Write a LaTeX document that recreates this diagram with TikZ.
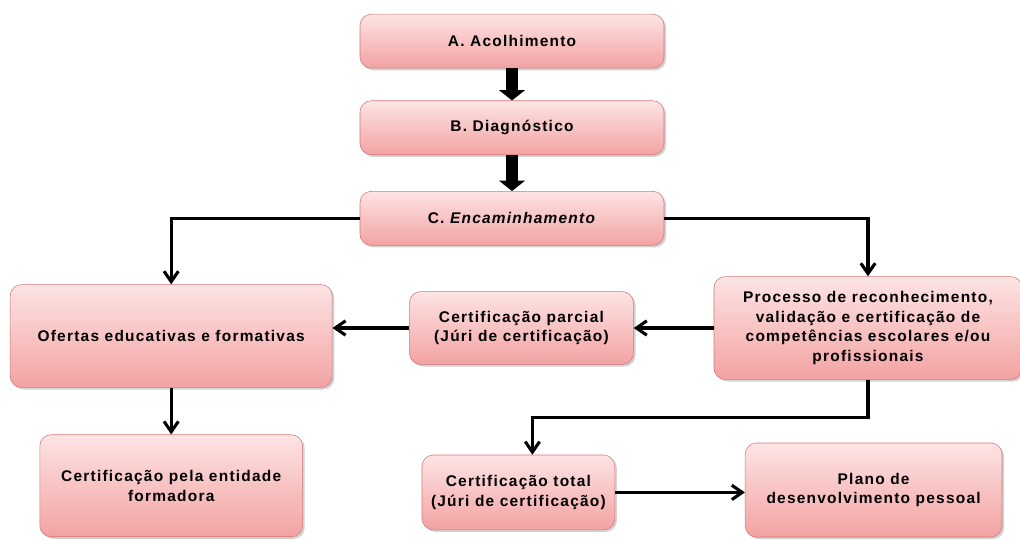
\documentclass[tikz,border=0pt]{standalone}
\usepackage{fontspec}
\setmainfont{Liberation Sans}[LetterSpace=8]
\usepackage{tikz}
\usetikzlibrary{arrows.meta, positioning, shadows}

\definecolor{boxtop}{HTML}{FDE4E4}
\definecolor{boxbot}{HTML}{F3A2A2}
\definecolor{boxline}{HTML}{D27878}

\begin{document}
\begin{tikzpicture}[node distance=1cm, auto]
\tikzstyle{block} = [rectangle, draw=boxline, top color=boxtop, bottom color=boxbot,
    rounded corners=8pt, align=center, inner sep=2pt,
    font=\fontsize{11}{13.8}\selectfont\bfseries,
    drop shadow={shadow xshift=1.5pt, shadow yshift=-1.5pt, fill=black!35}]
\tikzstyle{step3} = [block, minimum width=7.6cm, minimum height=1.35cm]
\tikzstyle{arrow} = [line width=2.2pt, -{Straight Barb[length=2.6mm,width=3.6mm]}]
\tikzstyle{fat} = [line width=3mm, -{Triangle[length=2.6mm,width=6.4mm]}]

\useasboundingbox (0,0) rectangle (25.5,-13.475);

% Nodes
\node [step3] (acolh) at (12.8,-1.03) {A. Acolhimento};
\node [step3, below=0.8cm of acolh] (diagn) {B. Diagnóstico};
\node [step3, below=0.9cm of diagn] (encam) {C. \textit{Encaminhamento}};
\node [block, minimum width=7.7cm, minimum height=2.57cm] (proc) at (21.7,-8.2)
    {Processo de reconhecimento,\\ validação e certificação de\\ competências escolares e/ou\\ profissionais};
\node [block, minimum width=5.6cm, minimum height=1.82cm, left=2cm of proc] (parcial)
    {Certificação parcial\\ (Júri de certificação)};
\node [block, minimum width=8.05cm, minimum height=2.57cm] (ofert) at (4.28,-8.4)
    {Ofertas educativas e formativas};
\node [block, minimum width=6.57cm, minimum height=2.55cm, below=1.17cm of ofert] (entid)
    {Certificação pela entidade\\ formadora};
\node [block, minimum width=4.82cm, minimum height=1.87cm] (total) at (12.96,-12.31)
    {Certificação total\\ (Júri de certificação)};
\node [block, minimum width=6.42cm, minimum height=2.35cm] (plano) at (21.84,-12.25)
    {Plano de\\ desenvolvimento pessoal};

% Arrows
\draw [fat] (acolh) -- (diagn);
\draw [fat] (diagn) -- (encam);
\draw [arrow] (encam.west) -| (ofert.north);
\draw [arrow] (encam.east) -| (proc.north);
\draw [arrow] (proc) -- (parcial);
\draw [arrow] (parcial.west) -- (parcial.west -| ofert.east);
\draw [arrow] (ofert) -- (entid);
\draw [arrow] (proc.south) -- ++(0,-0.95) -| ([xshift=0.35cm]total.north);
\draw [arrow] (total.east) -- (total.east -| plano.west);
\end{tikzpicture}
\end{document}
